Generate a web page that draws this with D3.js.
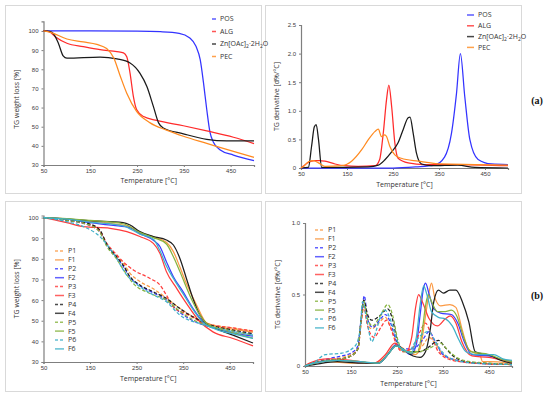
<!DOCTYPE html>
<html>
<head>
<meta charset="utf-8">
<script src="https://cdn.jsdelivr.net/npm/d3@7"></script>
<style>
  body { margin: 0; background: #fff; }
  svg { font-family: 'Open Sans', 'DejaVu Sans', sans-serif; }
</style>
</head>
<body>
<div id="chart"></div>
<script>
// ---- data (temperature in °C, value) ----
const xTicks = [50, 150, 250, 350, 450];
const tgTicks = [30, 40, 50, 60, 70, 80, 90, 100];
const dtgTicksA = [0, 0.5, 1.0, 1.5, 2.0, 2.5];
const dtgTicksB = [0, 0.5, 1.0];

const namesA = ['POS', 'ALG', 'ZN', 'PEC'];
const namesB = ['P1', 'F1', 'P2', 'F2', 'P3', 'F3', 'P4', 'F4', 'P5', 'F5', 'P6', 'F6'];

const tgPOS = [[50,100],[150,100],[250,99.9],[300,99.6],[340,98.8],[362,96.5],[376,92],[385,85],[392,73],[399,59],[406,47],[413,42],[427,38],[456,35.2],[500,32.3]];
const tgALG = [[50,100],[62,99.6],[75,97],[100,93.6],[135,91.8],[171,90.2],[207,89.2],[221,88.6],[228,86.5],[235,78],[242,66],[249,59],[264,55.3],[292,53.3],[349,50.5],[399,47.8],[456,44.5],[500,41.2]];
const tgZN = [[50,100],[65,99.7],[73,98],[82,93.5],[92,87],[100,85.8],[171,86.4],[207,85.4],[235,83.3],[256,78],[271,71],[285,60.5],[296,52],[306,49.3],[349,46.3],[399,43.4],[442,42.6],[500,42.6]];
const tgPEC = [[50,100],[65,99.3],[100,95.8],[135,94.3],[164,93],[185,90.8],[200,86],[214,76.5],[228,67.5],[249,58],[278,52],[313,48.2],[349,45],[399,41.3],[456,37.1],[500,34]];

const dtgPOS = [[50,0],[250,0],[300,0.02],[340,0.05],[362,0.19],[377,0.6],[388,1.3],[396.5,2.0],[406,1.25],[417,0.5],[435,0.15],[464,0.07],[500,0.06]];
const dtgALG = [[50,0],[58,0.05],[66,0.1],[80,0.13],[90,0.13],[102,0.12],[124,0.07],[145,0.04],[174,0.03],[211,0.04],[221,0.15],[229,0.62],[236,1.2],[241,1.45],[247,1.08],[254,0.44],[261,0.17],[283,0.09],[319,0.06],[391,0.06],[500,0.04]];
const dtgZN = [[50,0],[66,0.01],[73,0.38],[79,0.72],[83,0.76],[88,0.5],[95,0.01],[196,0.02],[218,0.05],[232,0.14],[247,0.28],[261,0.44],[272,0.67],[283,0.88],[287,0.89],[294,0.6],[301,0.26],[312,0.07],[334,0.04],[391,0.05],[428,0.01],[500,0]];
const dtgPEC = [[50,0],[56,0.03],[66,0.11],[77,0.13],[88,0.09],[102,0.03],[138,0.04],[160,0.12],[182,0.32],[196,0.49],[211,0.64],[218,0.68],[225,0.55],[232,0.58],[236,0.55],[243,0.38],[254,0.23],[268,0.17],[305,0.12],[355,0.07],[428,0.06],[500,0.05]];

const tgP1 = [[50,100],[100,98.8],[150,96.5],[171,93.5],[186,87],[207,81.5],[221,78],[236,73],[257,69],[286,65.5],[314,61],[343,56],[371,52],[400,48.8],[457,46.5],[500,45]];
const tgF1 = [[50,100],[100,99.3],[150,98.2],[200,97],[236,95.5],[257,92.6],[286,90.6],[314,88],[329,83.5],[343,76],[357,68],[379,57.5],[400,49],[430,46.8],[460,45.8],[500,44.5]];
const tgP2 = [[50,100],[100,98.6],[150,96],[171,93],[186,86.5],[207,80.5],[221,76.5],[236,71],[257,67],[286,63.5],[314,60],[343,54],[371,50],[400,47.5],[457,45],[500,43.5]];
const tgF2 = [[50,100],[100,99.2],[150,97.5],[200,96.2],[236,95],[257,92.2],[286,89],[300,86],[314,78.6],[329,71.3],[350,64],[371,56],[393,49.5],[421,46.2],[460,44],[500,42.5]];
const tgP3 = [[50,100],[100,98.8],[150,96.2],[171,93.5],[186,87.5],[207,82],[221,78.6],[243,74.6],[279,70.5],[300,67.3],[314,62.4],[329,56.7],[357,53.3],[400,48.5],[457,46.5],[500,45]];
const tgF3 = [[50,100],[64,99.4],[100,97.5],[136,95.6],[193,94.8],[229,93.2],[257,90.8],[286,87.5],[300,82.7],[314,73.8],[336,65.7],[357,58.4],[386,49.5],[414,44.6],[457,41.4],[500,37.8]];
const tgP4 = [[50,100],[100,98.8],[150,96.8],[171,94],[186,87],[207,81],[221,77],[236,71.3],[257,67.3],[286,64],[314,60.8],[343,55.9],[371,51.9],[400,48.6],[457,45.5],[500,43.8]];
const tgF4 = [[50,100],[100,99.4],[150,98.5],[221,97.6],[236,96.4],[257,93.2],[286,90.8],[314,89.1],[329,86.7],[343,80.2],[357,70.5],[371,60.8],[386,52.7],[400,48.6],[421,46.2],[457,43],[500,39.2]];
const tgP5 = [[50,100],[100,98.7],[150,96.2],[171,92.8],[186,86],[207,80],[221,75],[243,68],[279,63.2],[314,60],[343,54.5],[371,50.5],[400,47.8],[457,45],[500,43]];
const tgF5 = [[50,100],[100,99.5],[150,98.6],[221,97],[257,92.8],[286,90.3],[314,87.2],[329,81],[343,73.8],[364,62.4],[386,52.7],[400,48.8],[430,46],[460,44],[500,41.5]];
const tgP6 = [[50,100],[100,98],[136,95.6],[171,90.8],[200,82.7],[229,72.1],[257,66.5],[286,62.5],[314,59.2],[343,52.7],[386,48.6],[430,46],[500,43]];
const tgF6 = [[50,100],[100,99.2],[150,97.8],[221,96],[257,92],[286,89.5],[300,84],[314,76.5],[329,70.5],[350,63],[371,55.5],[393,49],[421,45.8],[460,43.5],[500,41.5]];

const dtgP1 = [[50,0],[70,0.02],[100,0.04],[130,0.06],[150,0.08],[165,0.12],[172,0.3],[178,0.42],[185,0.3],[195,0.26],[210,0.3],[225,0.34],[235,0.28],[250,0.15],[265,0.1],[285,0.1],[305,0.14],[320,0.2],[330,0.17],[350,0.08],[380,0.04],[420,0.02],[500,0.01]];
const dtgF1 = [[50,0],[65,0.02],[100,0.03],[150,0.02],[200,0.02],[225,0.06],[245,0.14],[260,0.13],[275,0.09],[290,0.08],[300,0.12],[312,0.35],[320,0.52],[325,0.58],[332,0.48],[345,0.42],[365,0.43],[378,0.41],[392,0.25],[405,0.12],[420,0.09],[430,0.08],[436,0.03],[450,0.03],[500,0.02]];
const dtgP2 = [[50,0],[70,0.02],[100,0.05],[130,0.07],[150,0.09],[165,0.14],[172,0.33],[179,0.49],[186,0.33],[197,0.27],[212,0.32],[225,0.36],[236,0.3],[250,0.16],[262,0.12],[285,0.12],[305,0.18],[320,0.24],[332,0.18],[350,0.08],[380,0.04],[420,0.02],[500,0.01]];
const dtgF2 = [[50,0],[70,0.02],[120,0.04],[160,0.03],[210,0.02],[230,0.08],[248,0.15],[262,0.12],[280,0.08],[292,0.15],[300,0.35],[308,0.55],[312,0.58],[320,0.5],[330,0.4],[345,0.37],[368,0.36],[382,0.3],[395,0.18],[413,0.08],[449,0.07],[470,0.05],[500,0.03]];
const dtgP3 = [[50,0],[70,0.02],[100,0.04],[130,0.05],[150,0.07],[165,0.12],[172,0.3],[178,0.42],[186,0.28],[200,0.2],[215,0.27],[227,0.32],[238,0.25],[250,0.14],[262,0.1],[285,0.13],[300,0.24],[312,0.3],[322,0.24],[340,0.1],[370,0.04],[420,0.02],[500,0.01]];
const dtgF3 = [[50,0],[60,0.02],[100,0.05],[150,0.04],[200,0.02],[225,0.08],[245,0.16],[258,0.12],[270,0.1],[282,0.2],[290,0.4],[297,0.5],[305,0.45],[320,0.33],[338,0.28],[355,0.33],[366,0.35],[378,0.3],[391,0.17],[413,0.07],[450,0.06],[480,0.04],[500,0.03]];
const dtgP4 = [[50,0],[70,0.02],[100,0.04],[130,0.05],[150,0.07],[165,0.12],[172,0.33],[178,0.46],[186,0.36],[195,0.32],[212,0.35],[230,0.4],[240,0.33],[252,0.16],[270,0.1],[300,0.1],[322,0.14],[340,0.18],[352,0.14],[372,0.07],[400,0.03],[440,0.02],[500,0.01]];
const dtgF4 = [[50,0],[70,0.01],[120,0.03],[170,0.02],[210,0.02],[230,0.08],[248,0.14],[262,0.12],[285,0.07],[300,0.06],[312,0.1],[322,0.25],[330,0.45],[340,0.53],[351,0.51],[365,0.53],[378,0.53],[392,0.45],[406,0.31],[420,0.1],[456,0.07],[475,0.04],[500,0.02]];
const dtgP5 = [[50,0],[70,0.02],[100,0.04],[130,0.05],[150,0.07],[165,0.12],[172,0.32],[178,0.45],[186,0.33],[197,0.28],[215,0.36],[230,0.43],[240,0.36],[252,0.18],[265,0.1],[295,0.1],[318,0.12],[345,0.16],[358,0.12],[380,0.06],[410,0.03],[450,0.02],[500,0.01]];
const dtgF5 = [[50,0],[70,0.02],[120,0.04],[170,0.03],[210,0.02],[230,0.08],[248,0.14],[262,0.12],[280,0.09],[295,0.1],[305,0.25],[312,0.42],[318,0.5],[325,0.45],[338,0.38],[355,0.38],[368,0.39],[380,0.35],[395,0.2],[410,0.1],[450,0.08],[475,0.05],[500,0.03]];
const dtgP6 = [[50,0],[72,0.03],[94,0.08],[130,0.09],[159,0.14],[170,0.26],[175,0.45],[184,0.33],[195,0.17],[206,0.26],[217,0.37],[224,0.39],[235,0.33],[246,0.22],[261,0.11],[275,0.1],[290,0.17],[304,0.22],[319,0.24],[333,0.17],[348,0.1],[377,0.04],[420,0.02],[500,0.01]];
const dtgF6 = [[50,0],[70,0.02],[120,0.04],[170,0.03],[210,0.02],[230,0.08],[248,0.14],[262,0.12],[280,0.09],[292,0.2],[300,0.42],[308,0.56],[315,0.5],[325,0.38],[340,0.34],[355,0.33],[370,0.28],[385,0.18],[400,0.1],[420,0.08],[460,0.08],[480,0.05],[500,0.04]];

// ---- styles ----
const colorA = { POS: '#3333ff', ALG: '#ff2b2b', ZN: '#1a1a1a', PEC: '#ff8a1f' };
const colorB = { '1': '#fb9a45', '2': '#3b3bff', '3': '#ff3b3b', '4': '#1f1f1f', '5': '#86b33e', '6': '#3fb0c8' };

const svg = d3.select('#chart').append('svg')
    .attr('width', 550)
    .attr('height', 399);

// panel frames
const frames = [
    {x: 5.5, y: 5.5, w: 256, h: 188},
    {x: 265.5, y: 5.5, w: 256, h: 188},
    {x: 5.5, y: 201.5, w: 256, h: 190},
    {x: 265.5, y: 201.5, w: 256, h: 190}
];
svg.selectAll('.frame')
    .data(frames)
    .enter()
    .append('rect')
    .attr('class', 'frame')
    .attr('x', d => d.x)
    .attr('y', d => d.y)
    .attr('width', d => d.w)
    .attr('height', d => d.h)
    .attr('fill', 'none')
    .attr('stroke', '#d9d9d9')
    .attr('stroke-width', 1);

function drawPanel(cfg) {
    const x = d3.scaleLinear().domain([50, 500]).range([cfg.x0, cfg.x1]);
    const y = d3.scaleLinear().domain(cfg.yDomain).range([cfg.y0, cfg.y1]);
    const g = svg.append('g');

    // axes
    const xAxis = d3.axisBottom(x).tickValues(xTicks).tickSize(2).tickPadding(2).tickFormat(d3.format('d'));
    const yAxis = d3.axisLeft(y).tickValues(cfg.yTicks).tickSize(2).tickPadding(3).tickFormat(cfg.yFormat);

    const gx = g.append('g')
        .attr('transform', 'translate(0,' + cfg.y0 + ')')
        .call(xAxis);
    const gy = g.append('g')
        .attr('transform', 'translate(' + cfg.x0 + ',0)')
        .call(yAxis);

    [gx, gy].forEach(a => {
        a.select('.domain').attr('stroke', '#7f7f7f').attr('stroke-width', 1.2);
        a.selectAll('.tick line').attr('stroke', '#7f7f7f');
        a.selectAll('.tick text')
            .attr('fill', '#404040')
            .attr('font-family', "'Liberation Sans', Arial, sans-serif")
            .attr('font-size', '6px');
    });

    g.append('text')
        .attr('x', (cfg.x0 + cfg.x1) / 2)
        .attr('y', cfg.xTitleY)
        .attr('text-anchor', 'middle')
        .attr('font-size', '7px')
        .attr('fill', '#333')
        .text('Temperature [°C]');

    g.append('text')
        .attr('transform', 'translate(' + cfg.yTitleX + ',' + ((cfg.y0 + cfg.y1) / 2 + cfg.yTitleShift) + ') rotate(-90)')
        .attr('text-anchor', 'middle')
        .attr('font-size', '7px')
        .attr('fill', '#333')
        .text(cfg.yTitle);

    const line = d3.line()
        .x(d => x(d[0]))
        .y(d => y(d[1]))
        .curve(d3.curveMonotoneX);

    g.selectAll('.series')
        .data(cfg.series)
        .enter()
        .append('path')
        .attr('class', 'series')
        .attr('d', d => line(d.values))
        .attr('fill', 'none')
        .attr('stroke', d => d.color)
        .attr('stroke-width', 1.25)
        .attr('stroke-dasharray', d => d.dashed ? '3.5,2' : null);

    // legend
    const leg = g.selectAll('.leg')
        .data(cfg.series)
        .enter()
        .append('g')
        .attr('class', 'leg')
        .attr('transform', (d, i) => 'translate(' + cfg.legX + ',' + (cfg.legY + i * cfg.legStep) + ')');

    leg.append('line')
        .attr('x1', 0)
        .attr('x2', cfg.legLen)
        .attr('y1', 0)
        .attr('y2', 0)
        .attr('stroke', d => d.color)
        .attr('stroke-width', 1.5)
        .attr('opacity', 0.8)
        .attr('stroke-dasharray', d => d.dashed ? '3,2' : null);

    leg.append('text')
        .attr('x', cfg.legLen + 4)
        .attr('y', 0)
        .attr('dy', '0.35em')
        .attr('font-size', '7px')
        .attr('fill', '#333')
        .each(function(d) {
            const t = d3.select(this);
            if (d.name === 'ZN') {
                t.append('tspan').text('Zn[OAc]');
                t.append('tspan').attr('font-size', '5px').attr('dy', '2').text('2');
                t.append('tspan').attr('dy', '-2').text('·2H');
                t.append('tspan').attr('font-size', '5px').attr('dy', '2').text('2');
                t.append('tspan').attr('dy', '-2').text('O');
            } else {
                t.text(d.name);
            }
        });
}

const tgA = { POS: tgPOS, ALG: tgALG, ZN: tgZN, PEC: tgPEC };
const dtgA = { POS: dtgPOS, ALG: dtgALG, ZN: dtgZN, PEC: dtgPEC };
const tgB = { P1: tgP1, F1: tgF1, P2: tgP2, F2: tgF2, P3: tgP3, F3: tgF3, P4: tgP4, F4: tgF4, P5: tgP5, F5: tgF5, P6: tgP6, F6: tgF6 };
const dtgB = { P1: dtgP1, F1: dtgF1, P2: dtgP2, F2: dtgF2, P3: dtgP3, F3: dtgF3, P4: dtgP4, F4: dtgF4, P5: dtgP5, F5: dtgF5, P6: dtgP6, F6: dtgF6 };

const seriesA = src => namesA.map(n => ({ name: n, values: src[n], color: colorA[n], dashed: false }));
const seriesB = src => namesB.map(n => ({ name: n, values: src[n], color: colorB[n[1]], dashed: n[0] === 'P' }));

drawPanel({
    x0: 43.5, x1: 254, y0: 165, y1: 21.4, yDomain: [30, 105],
    yTicks: tgTicks, yFormat: d3.format('d'),
    xTitleY: 183, yTitleX: 19, yTitleShift: 6, yTitle: 'TG weight loss [%]',
    series: seriesA(tgA), legX: 212, legY: 19, legStep: 12.5, legLen: 4
});

drawPanel({
    x0: 301, x1: 508, y0: 168, y1: 25, yDomain: [0, 2.5],
    yTicks: dtgTicksA, yFormat: d => d === 0 ? '0' : d3.format('.1f')(d),
    xTitleY: 187, yTitleX: 279, yTitleShift: 0, yTitle: 'TG derivative [d%/°C]',
    series: seriesA(dtgA), legX: 467, legY: 15, legStep: 10.8, legLen: 7
});

drawPanel({
    x0: 43.5, x1: 253, y0: 362, y1: 215.5, yDomain: [30, 101],
    yTicks: tgTicks, yFormat: d3.format('d'),
    xTitleY: 381, yTitleX: 19, yTitleShift: 0, yTitle: 'TG weight loss [%]',
    series: seriesB(tgB), legX: 55, legY: 251, legStep: 8.9, legLen: 9
});

drawPanel({
    x0: 305, x1: 512, y0: 366, y1: 223, yDomain: [0, 1.0],
    yTicks: dtgTicksB, yFormat: d => d === 0 ? '0' : d3.format('.1f')(d),
    xTitleY: 385.5, yTitleX: 280, yTitleShift: 0, yTitle: 'TG derivative [d%/°C]',
    series: seriesB(dtgB), legX: 315, legY: 230, legStep: 8.9, legLen: 9
});

// panel tags
svg.selectAll('.tag')
    .data([{t: '(a)', y: 100}, {t: '(b)', y: 295}])
    .enter()
    .append('text')
    .attr('class', 'tag')
    .attr('x', 537)
    .attr('y', d => d.y)
    .attr('dy', '0.35em')
    .attr('text-anchor', 'middle')
    .attr('font-family', "'Liberation Serif', 'DejaVu Serif', serif")
    .attr('font-weight', 'bold')
    .attr('font-size', '10px')
    .attr('fill', '#111')
    .text(d => d.t);
</script>
</body>
</html>
